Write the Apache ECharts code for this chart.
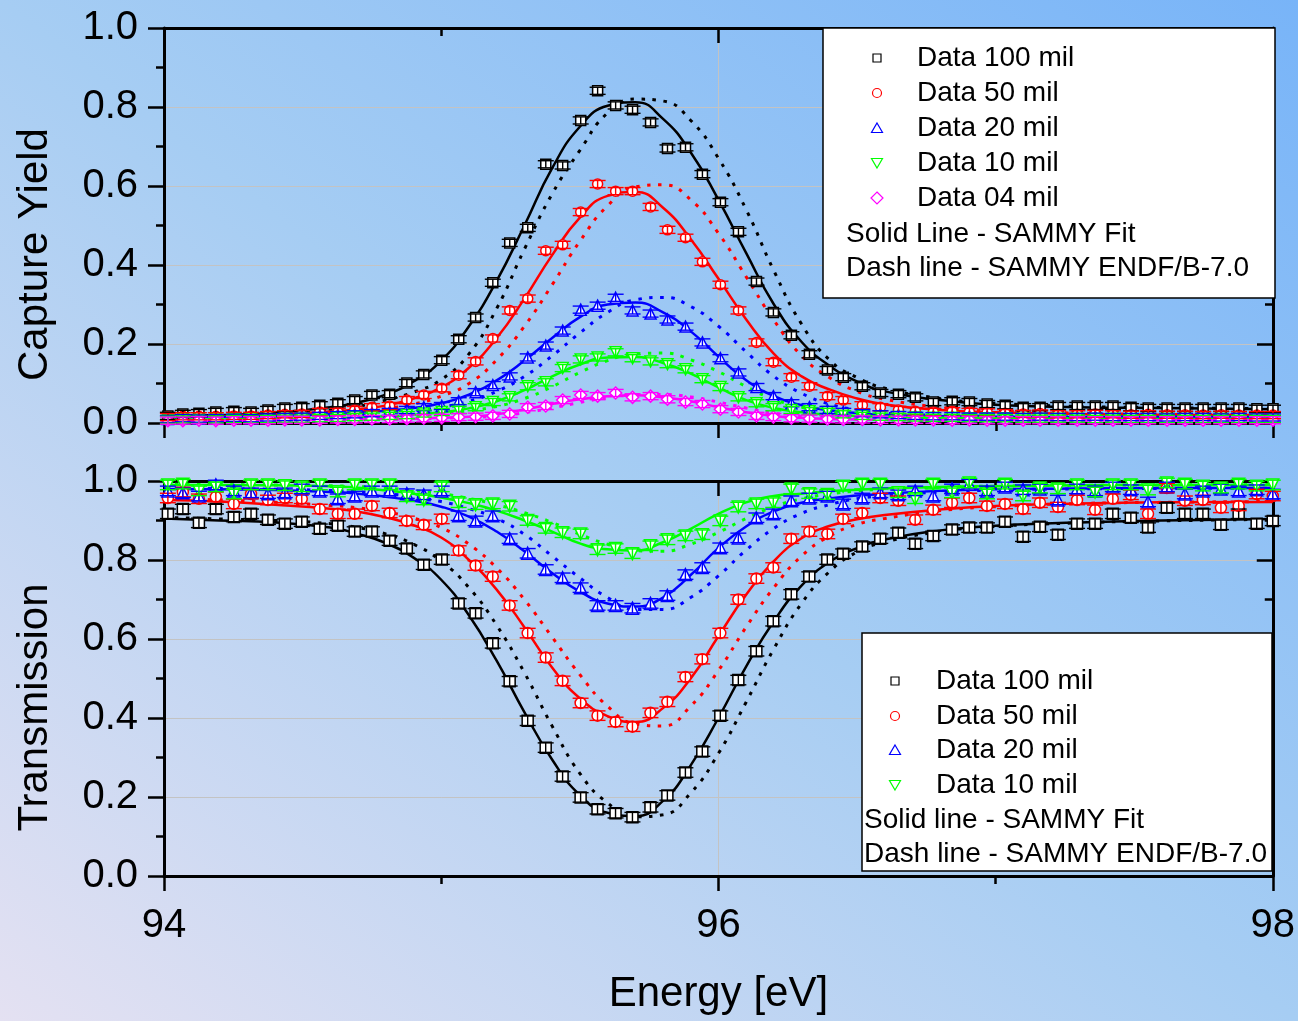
<!DOCTYPE html>
<html>
<head>
<meta charset="utf-8">
<script src="https://cdn.jsdelivr.net/npm/echarts@6/dist/echarts.min.js"></script>
<style>
html,body{margin:0;padding:0;}
#c{width:1298px;height:1021px;background:linear-gradient(to top right,#e4e1f2 0%,#a6cdf3 50%,#78b4f8 100%);}
</style>
</head>
<body>
<div id="c"></div>
<script>
// ---- measured energies of the data points (eV) ----
const energy = [94.014, 94.068, 94.126, 94.187, 94.252, 94.314, 94.375, 94.436, 94.497, 94.562,
  94.627, 94.688, 94.750, 94.814, 94.876, 94.937, 95.002, 95.063, 95.124, 95.186,
  95.247, 95.312, 95.377, 95.438, 95.503, 95.564, 95.629, 95.690, 95.755, 95.816,
  95.881, 95.942, 96.007, 96.072, 96.137, 96.198, 96.263, 96.328, 96.393, 96.450,
  96.519, 96.584, 96.649, 96.710, 96.775, 96.843, 96.905, 96.969, 97.034, 97.099,
  97.160, 97.225, 97.294, 97.359, 97.423, 97.488, 97.550, 97.618, 97.683, 97.748,
  97.813, 97.877, 97.942, 98.000];

// ---- capture yield data ----
const yield100 = [0.018, 0.023, 0.025, 0.028, 0.030, 0.028, 0.033, 0.038, 0.040, 0.045,
  0.050, 0.058, 0.071, 0.073, 0.101, 0.123, 0.159, 0.212, 0.267, 0.355,
  0.456, 0.494, 0.655, 0.652, 0.766, 0.841, 0.804, 0.793, 0.761, 0.695,
  0.698, 0.630, 0.559, 0.484, 0.358, 0.280, 0.222, 0.174, 0.134, 0.116,
  0.093, 0.076, 0.073, 0.065, 0.053, 0.055, 0.053, 0.048, 0.045, 0.040,
  0.040, 0.043, 0.043, 0.043, 0.043, 0.040, 0.038, 0.038, 0.038, 0.038,
  0.038, 0.038, 0.036, 0.036];
const yield50 = [0.015, 0.017, 0.017, 0.017, 0.018, 0.018, 0.020, 0.022, 0.023, 0.028,
  0.028, 0.033, 0.040, 0.043, 0.058, 0.071, 0.088, 0.121, 0.156, 0.214,
  0.285, 0.315, 0.436, 0.451, 0.534, 0.605, 0.587, 0.587, 0.547, 0.489,
  0.469, 0.408, 0.350, 0.285, 0.204, 0.154, 0.116, 0.093, 0.068, 0.058,
  0.045, 0.040, 0.033, 0.030, 0.028, 0.030, 0.028, 0.027, 0.025, 0.023,
  0.024, 0.022, 0.022, 0.023, 0.022, 0.021, 0.022, 0.021, 0.021, 0.020,
  0.021, 0.020, 0.020, 0.020];
const yield20 = [0.010, 0.012, 0.011, 0.012, 0.013, 0.012, 0.014, 0.015, 0.016, 0.018,
  0.020, 0.022, 0.025, 0.028, 0.033, 0.040, 0.043, 0.055, 0.078, 0.096,
  0.118, 0.166, 0.196, 0.234, 0.287, 0.297, 0.317, 0.285, 0.277, 0.262,
  0.244, 0.204, 0.164, 0.128, 0.091, 0.068, 0.050, 0.040, 0.033, 0.028,
  0.025, 0.022, 0.020, 0.018, 0.017, 0.017, 0.016, 0.016, 0.016, 0.015,
  0.016, 0.015, 0.015, 0.016, 0.015, 0.015, 0.015, 0.014, 0.015, 0.015,
  0.014, 0.015, 0.014, 0.014];
const yield10 = [0.008, 0.009, 0.008, 0.009, 0.010, 0.009, 0.010, 0.011, 0.011, 0.012,
  0.013, 0.015, 0.016, 0.018, 0.020, 0.024, 0.028, 0.033, 0.040, 0.053,
  0.065, 0.093, 0.103, 0.139, 0.161, 0.166, 0.179, 0.164, 0.156, 0.149,
  0.136, 0.111, 0.091, 0.065, 0.050, 0.040, 0.033, 0.030, 0.028, 0.022,
  0.018, 0.016, 0.015, 0.014, 0.013, 0.013, 0.012, 0.012, 0.012, 0.011,
  0.011, 0.011, 0.011, 0.010, 0.011, 0.010, 0.010, 0.010, 0.010, 0.010,
  0.010, 0.010, 0.010, 0.010];
const yield04 = [0.006, 0.006, 0.007, 0.006, 0.007, 0.007, 0.007, 0.008, 0.008, 0.008,
  0.009, 0.009, 0.010, 0.010, 0.011, 0.012, 0.013, 0.015, 0.016, 0.018,
  0.023, 0.040, 0.043, 0.058, 0.071, 0.068, 0.076, 0.065, 0.068, 0.060,
  0.053, 0.048, 0.035, 0.028, 0.018, 0.015, 0.012, 0.011, 0.010, 0.009,
  0.009, 0.008, 0.008, 0.008, 0.008, 0.007, 0.008, 0.007, 0.007, 0.007,
  0.007, 0.007, 0.007, 0.007, 0.007, 0.007, 0.007, 0.007, 0.007, 0.007,
  0.007, 0.007, 0.007, 0.007];

// ---- transmission data ----
const trans100 = [0.917, 0.929, 0.894, 0.929, 0.909, 0.917, 0.902, 0.892, 0.897, 0.879,
  0.887, 0.872, 0.872, 0.849, 0.829, 0.788, 0.801, 0.690, 0.665, 0.589,
  0.493, 0.393, 0.325, 0.252, 0.199, 0.169, 0.159, 0.149, 0.174, 0.204,
  0.262, 0.315, 0.406, 0.496, 0.569, 0.645, 0.713, 0.758, 0.801, 0.816,
  0.834, 0.854, 0.869, 0.841, 0.861, 0.877, 0.882, 0.882, 0.897, 0.859,
  0.884, 0.864, 0.892, 0.892, 0.917, 0.907, 0.882, 0.932, 0.917, 0.917,
  0.889, 0.917, 0.892, 0.899];
const trans50 = [0.957, 0.972, 0.955, 0.960, 0.942, 0.967, 0.952, 0.957, 0.955, 0.929,
  0.917, 0.917, 0.937, 0.919, 0.899, 0.889, 0.904, 0.824, 0.786, 0.758,
  0.685, 0.615, 0.553, 0.494, 0.438, 0.406, 0.390, 0.378, 0.413, 0.441,
  0.504, 0.549, 0.615, 0.700, 0.753, 0.781, 0.854, 0.872, 0.866, 0.904,
  0.919, 0.957, 0.950, 0.902, 0.927, 0.945, 0.957, 0.937, 0.942, 0.929,
  0.945, 0.934, 0.952, 0.927, 0.955, 0.965, 0.917, 0.982, 0.950, 0.952,
  0.932, 0.937, 0.967, 0.962];
const trans20 = [0.975, 0.970, 0.962, 0.990, 0.975, 0.970, 0.968, 0.970, 0.980, 0.975,
  0.955, 0.962, 0.975, 0.975, 0.968, 0.965, 0.975, 0.912, 0.899, 0.912,
  0.854, 0.817, 0.776, 0.755, 0.730, 0.685, 0.685, 0.678, 0.690, 0.710,
  0.763, 0.781, 0.831, 0.856, 0.907, 0.917, 0.950, 0.957, 0.962, 0.942,
  0.957, 0.970, 0.965, 0.975, 0.962, 0.980, 0.992, 0.975, 0.985, 0.978,
  0.980, 0.952, 0.980, 0.975, 0.985, 0.978, 0.947, 0.985, 0.967, 0.975,
  0.980, 0.975, 0.978, 0.967];
const trans10 = [0.990, 0.992, 0.975, 0.985, 0.967, 0.990, 0.990, 0.988, 0.985, 0.990,
  0.972, 0.990, 0.990, 0.990, 0.960, 0.952, 0.985, 0.945, 0.940, 0.942,
  0.936, 0.900, 0.880, 0.869, 0.866, 0.826, 0.829, 0.816, 0.836, 0.851,
  0.861, 0.864, 0.899, 0.934, 0.942, 0.945, 0.980, 0.968, 0.966, 0.987,
  0.992, 0.992, 0.970, 0.955, 0.992, 0.970, 0.995, 0.967, 0.992, 0.962,
  0.982, 0.980, 0.990, 0.972, 0.990, 0.990, 0.977, 0.995, 0.992, 0.987,
  0.982, 0.992, 0.987, 0.990];

const yieldErr = 0.009;
const transErr = 0.012;

// ---- SAMMY curves (fit = solid, ENDF/B-7.0 = dashed) ----
const curveEnergy = [94.0, 94.2, 94.4, 94.6, 94.7, 94.8, 94.9, 95.0, 95.1, 95.2,
  95.3, 95.4, 95.5, 95.6, 95.7, 95.8, 95.9, 96.0, 96.1, 96.2,
  96.3, 96.4, 96.5, 96.6, 96.8, 97.0, 97.3, 97.6, 98.0];

const yFit100 = [0.018, 0.020, 0.026, 0.040, 0.052, 0.072, 0.105, 0.158, 0.245, 0.360, 0.500, 0.645, 0.750, 0.803, 0.812, 0.770, 0.685, 0.565, 0.430, 0.300, 0.205, 0.145, 0.105, 0.080, 0.058, 0.046, 0.040, 0.038, 0.035];
const yEndf100 = [0.016, 0.018, 0.022, 0.032, 0.042, 0.058, 0.078, 0.110, 0.175, 0.290, 0.440, 0.580, 0.690, 0.785, 0.820, 0.815, 0.766, 0.670, 0.540, 0.385, 0.250, 0.160, 0.115, 0.088, 0.062, 0.050, 0.042, 0.039, 0.036];
const yFit50 = [0.016, 0.018, 0.022, 0.029, 0.035, 0.044, 0.062, 0.090, 0.140, 0.215, 0.315, 0.425, 0.520, 0.575, 0.585, 0.545, 0.465, 0.365, 0.262, 0.175, 0.118, 0.085, 0.062, 0.047, 0.033, 0.027, 0.023, 0.021, 0.020];
const yEndf50 = [0.014, 0.016, 0.019, 0.024, 0.028, 0.036, 0.048, 0.068, 0.100, 0.160, 0.245, 0.350, 0.460, 0.550, 0.598, 0.603, 0.565, 0.480, 0.370, 0.260, 0.170, 0.115, 0.080, 0.060, 0.040, 0.031, 0.025, 0.022, 0.021];
const yFit20 = [0.014, 0.016, 0.018, 0.022, 0.026, 0.031, 0.038, 0.050, 0.072, 0.108, 0.158, 0.215, 0.268, 0.300, 0.305, 0.280, 0.232, 0.168, 0.108, 0.068, 0.045, 0.032, 0.025, 0.021, 0.017, 0.016, 0.015, 0.015, 0.015];
const yEndf20 = [0.012, 0.013, 0.015, 0.018, 0.021, 0.025, 0.031, 0.040, 0.055, 0.080, 0.118, 0.170, 0.228, 0.280, 0.312, 0.318, 0.295, 0.245, 0.180, 0.118, 0.075, 0.048, 0.033, 0.025, 0.019, 0.017, 0.015, 0.015, 0.014];
const yFit10 = [0.008, 0.009, 0.010, 0.012, 0.014, 0.017, 0.021, 0.027, 0.037, 0.055, 0.083, 0.118, 0.148, 0.166, 0.167, 0.152, 0.125, 0.090, 0.058, 0.038, 0.027, 0.021, 0.018, 0.016, 0.013, 0.012, 0.011, 0.010, 0.010];
const yEndf10 = [0.008, 0.009, 0.010, 0.011, 0.013, 0.015, 0.019, 0.024, 0.031, 0.042, 0.062, 0.092, 0.128, 0.158, 0.175, 0.177, 0.160, 0.130, 0.092, 0.060, 0.040, 0.028, 0.021, 0.017, 0.014, 0.012, 0.011, 0.010, 0.010];
const yFit04 = [0.006, 0.006, 0.007, 0.008, 0.009, 0.010, 0.011, 0.013, 0.016, 0.022, 0.034, 0.048, 0.060, 0.068, 0.070, 0.065, 0.055, 0.040, 0.027, 0.018, 0.013, 0.010, 0.009, 0.008, 0.007, 0.007, 0.007, 0.007, 0.007];
const yEndf04 = [0.006, 0.006, 0.007, 0.007, 0.008, 0.009, 0.010, 0.012, 0.014, 0.018, 0.026, 0.038, 0.052, 0.064, 0.071, 0.072, 0.066, 0.053, 0.038, 0.025, 0.017, 0.012, 0.010, 0.008, 0.007, 0.007, 0.007, 0.007, 0.007];

const tFit100 = [0.905, 0.900, 0.895, 0.882, 0.866, 0.843, 0.806, 0.750, 0.660, 0.545, 0.415, 0.295, 0.205, 0.160, 0.152, 0.190, 0.280, 0.400, 0.530, 0.645, 0.735, 0.795, 0.830, 0.852, 0.875, 0.887, 0.895, 0.900, 0.904];
const tEndf100 = [0.908, 0.904, 0.900, 0.892, 0.882, 0.866, 0.840, 0.797, 0.730, 0.635, 0.515, 0.380, 0.260, 0.185, 0.150, 0.155, 0.210, 0.310, 0.440, 0.575, 0.690, 0.770, 0.820, 0.845, 0.872, 0.885, 0.894, 0.899, 0.903];
const tFit50 = [0.952, 0.948, 0.940, 0.930, 0.922, 0.908, 0.888, 0.857, 0.800, 0.725, 0.630, 0.528, 0.450, 0.405, 0.390, 0.425, 0.500, 0.607, 0.712, 0.797, 0.855, 0.886, 0.903, 0.914, 0.928, 0.937, 0.943, 0.946, 0.947];
const tEndf50 = [0.955, 0.952, 0.946, 0.938, 0.932, 0.922, 0.906, 0.882, 0.840, 0.780, 0.700, 0.605, 0.510, 0.430, 0.385, 0.380, 0.430, 0.520, 0.630, 0.730, 0.810, 0.860, 0.890, 0.905, 0.925, 0.935, 0.943, 0.946, 0.948];
const tFit20 = [0.980, 0.979, 0.977, 0.972, 0.968, 0.960, 0.950, 0.935, 0.910, 0.872, 0.822, 0.767, 0.720, 0.690, 0.682, 0.705, 0.762, 0.830, 0.885, 0.923, 0.945, 0.956, 0.963, 0.968, 0.975, 0.979, 0.981, 0.982, 0.982];
const tEndf20 = [0.982, 0.981, 0.979, 0.976, 0.973, 0.968, 0.960, 0.948, 0.930, 0.905, 0.865, 0.810, 0.755, 0.705, 0.675, 0.675, 0.705, 0.760, 0.825, 0.880, 0.918, 0.940, 0.955, 0.963, 0.972, 0.977, 0.980, 0.981, 0.982];
const tFit10 = [0.990, 0.990, 0.989, 0.987, 0.983, 0.976, 0.968, 0.958, 0.944, 0.925, 0.900, 0.872, 0.842, 0.827, 0.824, 0.845, 0.879, 0.917, 0.946, 0.962, 0.968, 0.974, 0.978, 0.981, 0.985, 0.987, 0.989, 0.990, 0.990];
const tEndf10 = [0.992, 0.991, 0.990, 0.988, 0.986, 0.982, 0.976, 0.968, 0.956, 0.940, 0.920, 0.895, 0.865, 0.840, 0.824, 0.822, 0.840, 0.870, 0.905, 0.935, 0.955, 0.967, 0.975, 0.979, 0.984, 0.987, 0.989, 0.990, 0.991];

const xTicks = [94, 96, 98];
const yTicks = [0.0, 0.2, 0.4, 0.6, 0.8, 1.0];

// ---- styling / helpers ----
const FONT = 'Arial, "Liberation Sans", sans-serif';
const COLORS = {k: '#000000', r: '#ff0000', b: '#0000ff', g: '#00ff00', m: '#ff00ff'};

function curve(name, ys, color, dashed, xi, yi) {
  return {
    type: 'line', name: name, xAxisIndex: xi, yAxisIndex: yi,
    data: curveEnergy.map((e, i) => [e, ys[i]]),
    smooth: 0.5, showSymbol: false, symbol: 'none', silent: true, z: 2,
    lineStyle: dashed ? {color: color, width: 3, type: [3.5, 7.5], cap: 'butt'} : {color: color, width: 2.5},
    clip: true
  };
}
function points(name, ys, color, symbol, rotate, size, xi, yi) {
  return {
    type: 'scatter', name: name, xAxisIndex: xi, yAxisIndex: yi,
    data: energy.map((e, i) => [e, ys[i]]),
    symbol: symbol, symbolRotate: rotate, symbolSize: size, z: 3, silent: true,
    itemStyle: {color: '#ffffff', borderColor: color, borderWidth: 1.5, opacity: 1}
  };
}
function errbars(name, ys, err, color, xi, yi) {
  return {
    type: 'custom', name: name, xAxisIndex: xi, yAxisIndex: yi, z: 4, silent: true,
    data: energy.map((e, i) => [e, ys[i], err]),
    encode: {x: 0, y: 1},
    renderItem: function (params, api) {
      const x = api.value(0), y = api.value(1), d = api.value(2);
      const hi = api.coord([x, y + d]), lo = api.coord([x, y - d]);
      const w = 8;
      const st = {stroke: color, lineWidth: 1.4, fill: null};
      return {type: 'group', children: [
        {type: 'line', shape: {x1: hi[0], y1: hi[1], x2: lo[0], y2: lo[1]}, style: st},
        {type: 'line', shape: {x1: hi[0] - w, y1: hi[1], x2: hi[0] + w, y2: hi[1]}, style: st},
        {type: 'line', shape: {x1: lo[0] - w, y1: lo[1], x2: lo[0] + w, y2: lo[1]}, style: st}
      ]};
    }
  };
}

function xAxisDef(gi, pos, showLabels, name) {
  const inside = pos === 'top';
  return {
    type: 'value', gridIndex: gi, position: pos, min: 94, max: 98, interval: 2,
    axisLine: {show: true, onZero: false, lineStyle: {color: '#000', width: 3}},
    axisTick: {show: true, inside: inside, length: 15, lineStyle: {color: '#000', width: 2.5}},
    minorTick: {show: true, splitNumber: 2, length: 8, lineStyle: {color: '#000', width: 2.5}},
    axisLabel: {show: showLabels, fontSize: 40, color: '#000', fontFamily: FONT, margin: 30,
      customValues: xTicks},
    splitLine: {show: pos === 'bottom', lineStyle: {color: '#c3c3c3', width: 1}},
    name: name || '', nameLocation: 'middle', nameGap: 97,
    nameTextStyle: {fontSize: 42, color: '#000', fontFamily: FONT}
  };
}
function yAxisDef(gi, pos, name) {
  const inside = pos === 'right';
  return {
    type: 'value', gridIndex: gi, position: pos, min: 0, max: 1, interval: 0.2,
    axisLine: {show: true, onZero: false, lineStyle: {color: '#000', width: 3}},
    axisTick: {show: true, inside: inside, length: 16, lineStyle: {color: '#000', width: 2.5}},
    minorTick: {show: true, splitNumber: 2, length: 8, lineStyle: {color: '#000', width: 2.5}},
    axisLabel: {show: pos === 'left', fontSize: 40, color: '#000', fontFamily: FONT, margin: 26,
      formatter: v => v.toFixed(1)},
    splitLine: {show: pos === 'left', lineStyle: {color: '#c3c3c3', width: 1}},
    name: name || '', nameLocation: 'middle', nameGap: 108,
    nameTextStyle: {fontSize: 42, color: '#000', fontFamily: FONT, padding: [0, 58, 0, 0]}
  };
}

const series = [
  // top panel: capture yield
  curve('Fit 100', yFit100, COLORS.k, false, 0, 0),
  curve('ENDF 100', yEndf100, COLORS.k, true, 0, 0),
  curve('Fit 50', yFit50, COLORS.r, false, 0, 0),
  curve('ENDF 50', yEndf50, COLORS.r, true, 0, 0),
  curve('Fit 20', yFit20, COLORS.b, false, 0, 0),
  curve('ENDF 20', yEndf20, COLORS.b, true, 0, 0),
  curve('Fit 10', yFit10, COLORS.g, false, 0, 0),
  curve('ENDF 10', yEndf10, COLORS.g, true, 0, 0),
  curve('Fit 04', yFit04, COLORS.m, false, 0, 0),
  curve('ENDF 04', yEndf04, COLORS.m, true, 0, 0),
  points('Data 100 mil', yield100, COLORS.k, 'rect', 0, 10, 0, 0),
  errbars('err100', yield100, yieldErr, COLORS.k, 0, 0),
  points('Data 50 mil', yield50, COLORS.r, 'circle', 0, 10, 0, 0),
  errbars('err50', yield50, yieldErr, COLORS.r, 0, 0),
  points('Data 20 mil', yield20, COLORS.b, 'triangle', 0, 11, 0, 0),
  errbars('err20', yield20, yieldErr, COLORS.b, 0, 0),
  points('Data 10 mil', yield10, COLORS.g, 'triangle', 180, 11, 0, 0),
  errbars('err10', yield10, yieldErr, COLORS.g, 0, 0),
  points('Data 04 mil', yield04, COLORS.m, 'diamond', 0, 12, 0, 0),
  errbars('err04', yield04, yieldErr, COLORS.m, 0, 0),
  // bottom panel: transmission
  curve('T Fit 100', tFit100, COLORS.k, false, 2, 2),
  curve('T ENDF 100', tEndf100, COLORS.k, true, 2, 2),
  curve('T Fit 50', tFit50, COLORS.r, false, 2, 2),
  curve('T ENDF 50', tEndf50, COLORS.r, true, 2, 2),
  curve('T Fit 20', tFit20, COLORS.b, false, 2, 2),
  curve('T ENDF 20', tEndf20, COLORS.b, true, 2, 2),
  curve('T Fit 10', tFit10, COLORS.g, false, 2, 2),
  curve('T ENDF 10', tEndf10, COLORS.g, true, 2, 2),
  points('T Data 100 mil', trans100, COLORS.k, 'rect', 0, 11, 2, 2),
  errbars('terr100', trans100, transErr, COLORS.k, 2, 2),
  points('T Data 50 mil', trans50, COLORS.r, 'circle', 0, 11, 2, 2),
  errbars('terr50', trans50, transErr, COLORS.r, 2, 2),
  points('T Data 20 mil', trans20, COLORS.b, 'triangle', 0, 12, 2, 2),
  errbars('terr20', trans20, transErr, COLORS.b, 2, 2),
  points('T Data 10 mil', trans10, COLORS.g, 'triangle', 180, 12, 2, 2),
  errbars('terr10', trans10, transErr, COLORS.g, 2, 2)
];

// ---- legend boxes (graphic) ----
function legendText(x, y, t) {
  return {type: 'text', x: x, y: y, z: 101,
    style: {text: t, font: '28px ' + FONT, fill: '#000', textVerticalAlign: 'middle', verticalAlign: 'middle', align: 'left'}};
}
function legSym(kind, x, y, color) {
  const st = {stroke: color, fill: 'none', lineWidth: 1.2};
  if (kind === 'rect') return {type: 'rect', z: 101, shape: {x: x - 4, y: y - 4, width: 8, height: 8}, style: st};
  if (kind === 'circle') return {type: 'circle', z: 101, shape: {cx: x, cy: y, r: 4.5}, style: st};
  if (kind === 'up') return {type: 'polygon', z: 101, shape: {points: [[x, y - 5], [x + 5.5, y + 4.5], [x - 5.5, y + 4.5]]}, style: st};
  if (kind === 'down') return {type: 'polygon', z: 101, shape: {points: [[x, y + 5], [x + 5.5, y - 4.5], [x - 5.5, y - 4.5]]}, style: st};
  return {type: 'polygon', z: 101, shape: {points: [[x, y - 6], [x + 6, y], [x, y + 6], [x - 6, y]]}, style: st};
}
const topLegendLabels = ['Data 100 mil', 'Data 50 mil', 'Data 20 mil', 'Data 10 mil', 'Data 04 mil'];
const botLegendLabels = ['Data 100 mil', 'Data 50 mil', 'Data 20 mil', 'Data 10 mil'];
const symKinds = ['rect', 'circle', 'up', 'down', 'diamond'];
const symColors = [COLORS.k, COLORS.r, COLORS.b, COLORS.g, COLORS.m];

const graphics = [
  {type: 'rect', z: 100, shape: {x: 823, y: 28, width: 452, height: 270}, style: {fill: '#fff', stroke: '#000', lineWidth: 1.5}},
  {type: 'rect', z: 100, shape: {x: 862, y: 633, width: 410, height: 238}, style: {fill: '#fff', stroke: '#000', lineWidth: 1.5}}
];
const topRows = [58, 93, 128, 163, 198];
topLegendLabels.forEach((t, i) => {
  graphics.push(legSym(symKinds[i], 877, topRows[i], symColors[i]));
  graphics.push(legendText(917, topRows[i], t));
});
graphics.push(legendText(846, 234, 'Solid Line - SAMMY Fit'));
graphics.push(legendText(846, 268, 'Dash line - SAMMY ENDF/B-7.0'));
const botRows = [681, 716, 750, 785];
botLegendLabels.forEach((t, i) => {
  graphics.push(legSym(symKinds[i], 895, botRows[i], symColors[i]));
  graphics.push(legendText(936, botRows[i], t));
});
graphics.push(legendText(864, 820, 'Solid line - SAMMY Fit'));
graphics.push(legendText(864, 854, 'Dash line - SAMMY ENDF/B-7.0'));

const option = {
  backgroundColor: 'transparent',
  animation: false,
  textStyle: {fontFamily: FONT},
  grid: [
    {left: 164, top: 28, width: 1109, height: 395, containLabel: false},
    {left: 164, top: 481, width: 1109, height: 395, containLabel: false}
  ],
  xAxis: [
    xAxisDef(0, 'bottom', false),
    xAxisDef(0, 'top', false),
    xAxisDef(1, 'bottom', true, 'Energy [eV]'),
    xAxisDef(1, 'top', false)
  ],
  yAxis: [
    yAxisDef(0, 'left', 'Capture Yield'),
    yAxisDef(0, 'right'),
    yAxisDef(1, 'left', 'Transmission'),
    yAxisDef(1, 'right')
  ],
  series: series,
  graphic: graphics
};
const chart = echarts.init(document.getElementById('c'), null, {renderer: 'canvas'});
chart.setOption(option);
</script>
</body>
</html>
